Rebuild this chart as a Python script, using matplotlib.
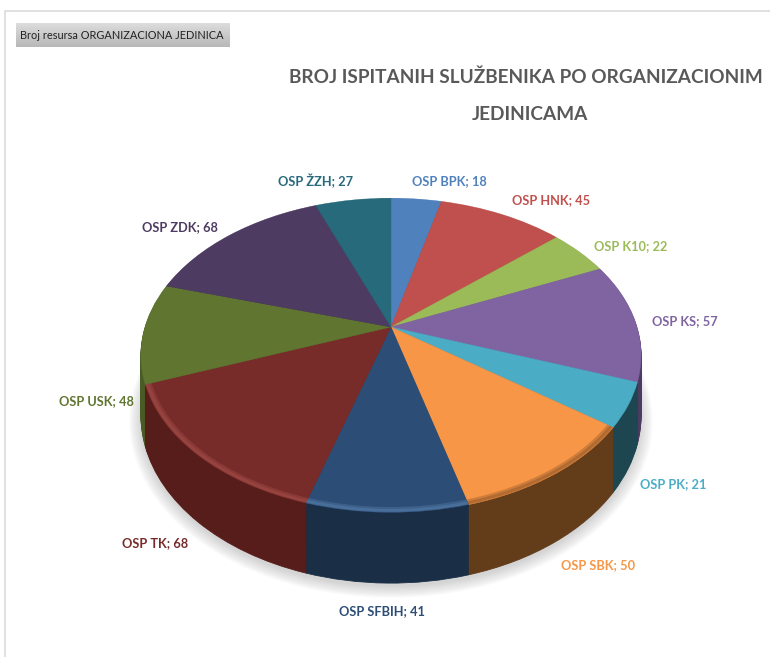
import numpy as np
import matplotlib
matplotlib.use("Agg")
import matplotlib.pyplot as plt
from matplotlib.transforms import Transform

names = ["OSP BPK", "OSP HNK", "OSP K10", "OSP KS", "OSP PK", "OSP SBK",
         "OSP SFBIH", "OSP TK", "OSP USK", "OSP ZDK", "OSP ŽZH"]
values = [18, 45, 22, 57, 21, 50, 41, 68, 48, 68, 27]
top_colors = ["#4F81BD", "#C0504D", "#9BBB59", "#8064A2", "#4BACC6", "#F79646",
              "#2C4D75", "#772C2A", "#5F7530", "#4D3B62", "#276A7C"]
side_colors = ["#2F4D71", "#73302E", "#5D7035", "#4D3C61", "#1D4650", "#633C1A",
               "#1A2E46", "#571D1A", "#4A5C25", "#2E233A", "#173F4A"]
rim_colors = ["none", "none", "none", "none", "none", "#5A341840",
              "#6F9CCB40", "#C0605C40", "none", "none", "none"]
label_colors = top_colors[:6] + ["#2C4D75", "#772C2A", "#5F7530", "#4D3B62", "#276A7C"]
title_lines = ["BROJ ISPITANIH SLUŽBENIKA PO ORGANIZACIONIM", "JEDINICAMA"]
button_text = "Broj resursa ORGANIZACIONA JEDINICA"

plt.rcParams["font.family"] = ["Lato", "DejaVu Sans"]

# perspective of the pie, everything below in image pixels
CX, CY = 391, 327
RX, RY = 246, 152
K = 0.18
DEPTH = 58


class Persp(Transform):
    input_dims = 2
    output_dims = 2
    is_separable = False
    has_inverse = False

    def __init__(self, drop=0):
        super().__init__()
        self.drop = drop

    def transform_non_affine(self, values):
        values = np.asarray(values)
        u, v = values[:, 0], values[:, 1]
        w = 1 + K * v
        return np.column_stack([CX + RX * u / w, CY - RY * v / w + self.drop / w])


def pie_layer(colors, drop=0, radius=1.0, edge=0.0, **props):
    wedges, _ = ax.pie(values, colors=colors, startangle=90, counterclock=False,
                       radius=radius, wedgeprops=props)
    for w in wedges:
        w.set_transform(Persp(drop) + ax.transData)
        if edge:
            w.set_edgecolor(w.get_facecolor())
            w.set_linewidth(edge)
    return wedges


fig = plt.figure(figsize=(7.7, 6.57), dpi=100)
ax = fig.add_axes([0, 0, 1, 1])

# soft shadow under the pie
for i in range(10):
    pie_layer(["#808080"] * len(values), DEPTH + 3, 1.045 - i * 0.005, alpha=0.035, linewidth=0)

# side wall, stacked from the bottom up
for d in range(DEPTH, 0, -1):
    pie_layer(side_colors, d, edge=0.6)

pie_layer(top_colors, 0, edge=0.3)
pie_layer(rim_colors, 0, 1.0, width=0.024, linewidth=0)
pie_layer(rim_colors, 0, 0.997, width=0.012, linewidth=0)

ax.set_aspect("auto")
ax.set_xlim(0, 770)
ax.set_ylim(657, 0)
ax.axis("off")

# frame around the chart area
ax.plot([5, 5, 770], [657, 11, 11], color="#DADADA", lw=1.2)

# filter button
grad = np.linspace(0.86, 0.72, 24).reshape(-1, 1)
ax.imshow(grad, cmap="gray", vmin=0, vmax=1, extent=(16, 230, 47, 23), aspect="auto", zorder=3)
ax.set_xlim(0, 770)
ax.set_ylim(657, 0)
ax.text(20, 35.5, button_text, fontsize=7.9, color="#222222", va="center", ha="left", zorder=4)

ax.text(289, 77, title_lines[0], fontsize=13.7, fontweight="bold", color="#595959",
        ha="left", va="center")
ax.text(530, 114, title_lines[1], fontsize=13.7, fontweight="bold", color="#595959",
        ha="center", va="center")

label_x = [449, 551, 631, 685, 673, 598, 382, 155, 96, 180, 316]
label_y = [181, 200, 246, 321, 484, 565, 611, 543, 401, 227, 181]
for n, val, c, x, y in zip(names, values, label_colors, label_x, label_y):
    ax.text(x, y, f"{n}; {val}", color=c, fontsize=9.2, fontweight="bold",
            ha="center", va="center")

fig.savefig("out.png", dpi=100)
